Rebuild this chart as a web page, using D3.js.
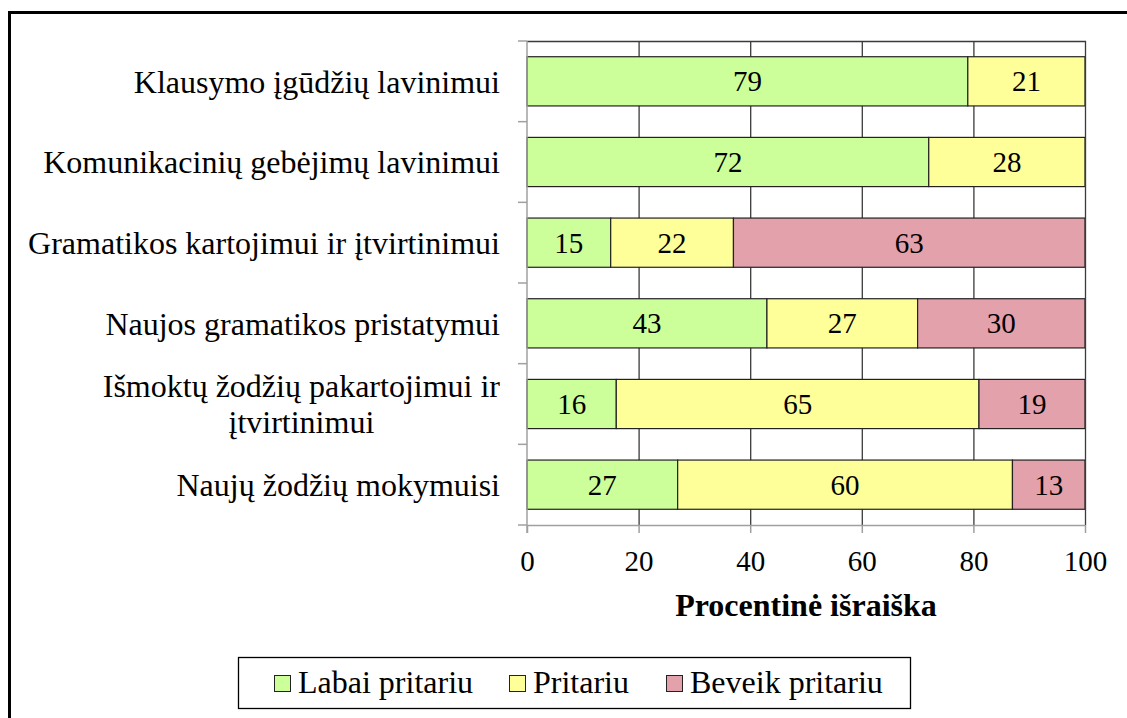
<!DOCTYPE html>
<html>
<head>
<meta charset="utf-8">
<title>Procentinė išraiška</title>
<script src="https://d3js.org/d3.v7.min.js"></script>
<style>
  body { margin: 0; background: #fff; }
</style>
</head>
<body>
<div id="chart"></div>
<script>
// data
const categories = [
  "Klausymo įgūdžių lavinimui",
  "Komunikacinių gebėjimų lavinimui",
  "Gramatikos kartojimui ir įtvirtinimui",
  "Naujos gramatikos pristatymui",
  "Išmoktų žodžių pakartojimui ir įtvirtinimui",
  "Naujų žodžių mokymuisi"
];
const labaiPritariu  = [79, 72, 15, 43, 16, 27];
const pritariu       = [21, 28, 22, 27, 65, 60];
const beveikPritariu = [0, 0, 63, 30, 19, 13];
const seriesNames = ["Labai pritariu", "Pritariu", "Beveik pritariu"];
const xTicks = [0, 20, 40, 60, 80, 100];

const colors = ["#ccff99", "#ffff99", "#e3a1ac"];
const width = 1127, height = 718;
const plot = { left: 527, right: 1085, top: 41, bottom: 525 };
const FONT = "Liberation Serif";

const svg = d3.select("#chart").append("svg")
  .attr("width", width).attr("height", height)
  .attr("font-family", FONT);

// outer frame (only left/top visible in the picture)
svg.append("rect")
  .attr("x", 9.5).attr("y", 12.5)
  .attr("width", 1140).attr("height", 740)
  .attr("fill", "none").attr("stroke", "#000").attr("stroke-width", 3);

const x = d3.scaleLinear().domain([0, 100]).range([plot.left, plot.right]);
const y = d3.scaleBand().domain(categories)
  .range([plot.top, plot.bottom])
  .paddingInner(0.39).paddingOuter(0.195);

// gridlines
svg.append("g").selectAll("line")
  .data(xTicks.filter(t => t > 0 && t < 100))
  .join("line")
  .attr("x1", d => x(d) + 0.5).attr("x2", d => x(d) + 0.5)
  .attr("y1", plot.top).attr("y2", plot.bottom)
  .attr("stroke", "#3a3a3a").attr("stroke-width", 1.3);

// stacked bars
const rows = categories.map((c, i) => ({
  cat: c,
  vals: [labaiPritariu[i], pritariu[i], beveikPritariu[i]]
}));
const stack = d3.stack().keys([0, 1, 2]).value((d, k) => d.vals[k]);
const layers = stack(rows);

const gl = svg.append("g").selectAll("g").data(layers).join("g")
  .attr("fill", (d, i) => colors[i]);
gl.selectAll("rect")
  .data(d => d.filter(p => p[1] - p[0] > 0))
  .join("rect")
  .attr("x", p => x(p[0]))
  .attr("y", p => y(p.data.cat))
  .attr("width", p => x(p[1]) - x(p[0]))
  .attr("height", y.bandwidth())
  .attr("stroke", "#222").attr("stroke-width", 1.2);

gl.selectAll("text")
  .data(d => d.filter(p => p[1] - p[0] > 0))
  .join("text")
  .attr("x", p => (x(p[0]) + x(p[1])) / 2)
  .attr("y", p => y(p.data.cat) + y.bandwidth() / 2)
  .attr("dy", "0.35em")
  .attr("text-anchor", "middle")
  .attr("font-family", FONT)
  .attr("font-size", 29)
  .attr("fill", "#000")
  .text(p => p[1] - p[0]);

// top and right frame of the plot
svg.append("path")
  .attr("d", `M${plot.left},${plot.top + 0.5}H${plot.right + 0.5}V${plot.bottom}`)
  .attr("fill", "none").attr("stroke", "#3a3a3a").attr("stroke-width", 1.3);

// y axis: gray line with ticks at band edges
const yAxis = svg.append("g");
yAxis.append("line")
  .attr("x1", plot.left).attr("x2", plot.left)
  .attr("y1", plot.top).attr("y2", plot.bottom + 8)
  .attr("stroke", "#a0a0a0").attr("stroke-width", 1.5);
const edges = categories.map(c => y(c) - y.step() * y.paddingInner() / 2)
  .concat([plot.bottom]);
yAxis.selectAll(".tk").data(edges).join("line")
  .attr("x1", plot.left - 9).attr("x2", plot.left)
  .attr("y1", d => d).attr("y2", d => d)
  .attr("stroke", "#a0a0a0").attr("stroke-width", 1.5);

// x axis
const xAxis = svg.append("g")
  .attr("transform", `translate(0,${plot.bottom})`)
  .call(d3.axisBottom(x).tickValues(xTicks).tickSize(8).tickPadding(17).tickSizeOuter(0));
xAxis.attr("font-family", FONT).attr("font-size", 29);
xAxis.select(".domain").attr("stroke", "#a0a0a0").attr("stroke-width", 1.5);
xAxis.selectAll(".tick line").attr("stroke", "#a0a0a0").attr("stroke-width", 1.5);
xAxis.selectAll(".tick text").attr("fill", "#000");

svg.append("text")
  .attr("x", (plot.left + plot.right) / 2).attr("y", 616)
  .attr("text-anchor", "middle")
  .attr("font-family", FONT)
  .attr("font-size", 32).attr("font-weight", "bold")
  .text("Procentinė išraiška");

// category labels, wrapped when too wide
const labelRight = 500, maxW = 500;
const lg = svg.append("g");
categories.forEach(c => {
  const t = lg.append("text").attr("font-size", 32).attr("text-anchor", "middle")
    .attr("font-family", FONT);
  const words = c.split(" ");
  let lines = [], cur = [];
  words.forEach(w => {
    const test = cur.concat([w]).join(" ");
    t.text(test);
    if (t.node().getComputedTextLength() > maxW && cur.length) {
      lines.push(cur.join(" "));
      cur = [w];
    } else cur.push(w);
  });
  lines.push(cur.join(" "));
  // width of widest line for right alignment
  let wMax = 0;
  lines.forEach(l => {
    t.text(l); wMax = Math.max(wMax, t.node().getComputedTextLength());
  });
  t.text(null);
  const cx = labelRight - wMax / 2;
  const cy = y(c) + y.bandwidth() / 2;
  const lh = 36;
  lines.forEach((l, i) => {
    t.append("tspan")
      .attr("x", cx)
      .attr("y", cy + (i - (lines.length - 1) / 2) * lh)
      .attr("dy", "0.35em")
      .text(l);
  });
});

// legend
const leg = svg.append("g");
leg.append("rect")
  .attr("x", 238.5).attr("y", 657.5).attr("width", 672).attr("height", 51)
  .attr("fill", "#fff").attr("stroke", "#000").attr("stroke-width", 1.3);
const legX = [274, 509, 666];
seriesNames.forEach((s, i) => {
  leg.append("rect")
    .attr("x", legX[i] + 0.5).attr("y", 675.5).attr("width", 16).attr("height", 16)
    .attr("fill", colors[i]).attr("stroke", "#222").attr("stroke-width", 1);
  leg.append("text")
    .attr("x", legX[i] + 24).attr("y", 693)
    .attr("font-family", FONT)
    .attr("font-size", 32).text(s);
});
</script>
</body>
</html>
